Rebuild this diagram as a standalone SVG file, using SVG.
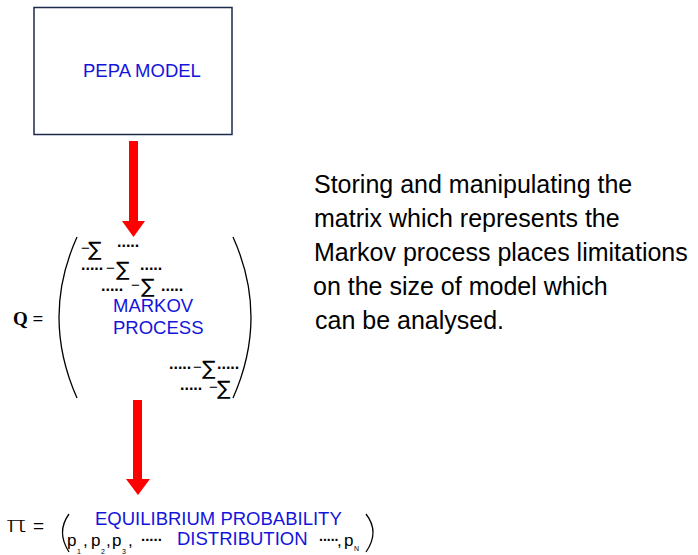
<svg xmlns="http://www.w3.org/2000/svg" width="698" height="555" viewBox="0 0 698 555">
<style>
.blue{font-family:"Liberation Sans",Arial,sans-serif;font-size:18.5px;fill:#1414dc}
.desc{font-family:"Liberation Sans",Arial,sans-serif;font-size:25px;fill:#000}
.dots{font-family:"Liberation Sans",Arial,sans-serif;font-size:16px;font-weight:bold;fill:#000}
.sig{font-family:"DejaVu Sans",sans-serif;font-size:20px;fill:#000}
.minus{font-family:"Liberation Sans",sans-serif;font-size:15px;fill:#000}
.p{font-family:"Liberation Sans",Arial,sans-serif;font-size:17px;fill:#000}
.sub{font-family:"Liberation Sans",Arial,sans-serif;font-size:7px;fill:#000}
.paren{fill:none;stroke:#000;stroke-width:1.3}
.arrow{fill:#ff0000;stroke:none}
</style>
<rect width="698" height="555" fill="#fff"/>
<g id="pepa-model">
<rect x="34" y="7.5" width="198" height="127" fill="#fff" stroke="#1c2a4c" stroke-width="1.5"/>
<text class="blue" x="83" y="77">PEPA MODEL</text>
</g>
<g id="connectors">
<polygon class="arrow" points="129,141 138,141 138,221 145,221 133.5,237 122,221 129,221"/>
<polygon class="arrow" points="133,400 142,400 142,479 150,479 138,495 126,479 133,479"/>
</g>
<g id="markov-process">
<text x="13" y="325" style="font-family:'Liberation Serif',serif;font-size:19px;font-weight:bold">Q =</text>
<path class="paren" d="M77,237 Q41,317 77,398"/>
<path class="paren" d="M233,237 Q269,317 233,398"/>
<text class="minus" x="81" y="253">−</text>
<text class="sig" x="88" y="256">∑</text>
<text class="dots" x="117" y="247">.....</text>
<text class="dots" x="81" y="270">.....</text>
<text class="minus" x="106" y="273">−</text>
<text class="sig" x="116" y="276">∑</text>
<text class="dots" x="140" y="270">.....</text>
<text class="dots" x="101" y="291">.....</text>
<text class="minus" x="131" y="290">−</text>
<text class="sig" x="141" y="293">∑</text>
<text class="dots" x="161" y="291">.....</text>
<text class="blue" x="113" y="312">MARKOV</text>
<text class="blue" x="113" y="334">PROCESS</text>
<text class="dots" x="169" y="369">.....</text>
<text class="minus" x="193" y="372">−</text>
<text class="sig" x="202" y="375">∑</text>
<text class="dots" x="217" y="369">.....</text>
<text class="dots" x="180" y="390">.....</text>
<text class="minus" x="209" y="392">−</text>
<text class="sig" x="217" y="395">∑</text>
</g>
<g id="equilibrium-distribution">
<text x="0" y="0" transform="translate(6 532) scale(1.6 1)" style="font-family:'DejaVu Sans',sans-serif;font-weight:200;font-size:21px">π</text>
<text x="33" y="532" style="font-family:'Liberation Sans',sans-serif;font-size:19px">=</text>
<path class="paren" d="M69,514 Q56,532 69,552"/>
<path class="paren" d="M366,514 Q380,532 366,552"/>
<text class="blue" x="95" y="525">EQUILIBRIUM PROBABILITY</text>
<text class="blue" x="177" y="545">DISTRIBUTION</text>
<text class="p" x="67" y="546">p</text><text class="sub" x="77" y="554">1</text><text class="p" x="83" y="546">,</text>
<text class="p" x="91" y="546">p</text><text class="sub" x="101" y="554">2</text><text class="p" x="106" y="546">,</text>
<text class="p" x="112" y="546">p</text><text class="sub" x="122" y="554">3</text><text class="p" x="128" y="546">,</text>
<text class="dots" x="141" y="541" style="font-size:15px">.....</text>
<text class="dots" x="319" y="541" style="font-size:14px">.....</text>
<text class="p" x="337" y="546">,</text>
<text class="p" x="344" y="546">p</text><text class="sub" x="354" y="551">N</text>
</g>
<g id="description">
<text class="desc" x="314" y="193">Storing and manipulating the</text>
<text class="desc" x="314" y="227">matrix which represents the</text>
<text class="desc" x="314" y="261">Markov process places limitations</text>
<text class="desc" x="313" y="295">on the size of model which</text>
<text class="desc" x="315" y="329">can be analysed.</text>
</g>
</svg>
